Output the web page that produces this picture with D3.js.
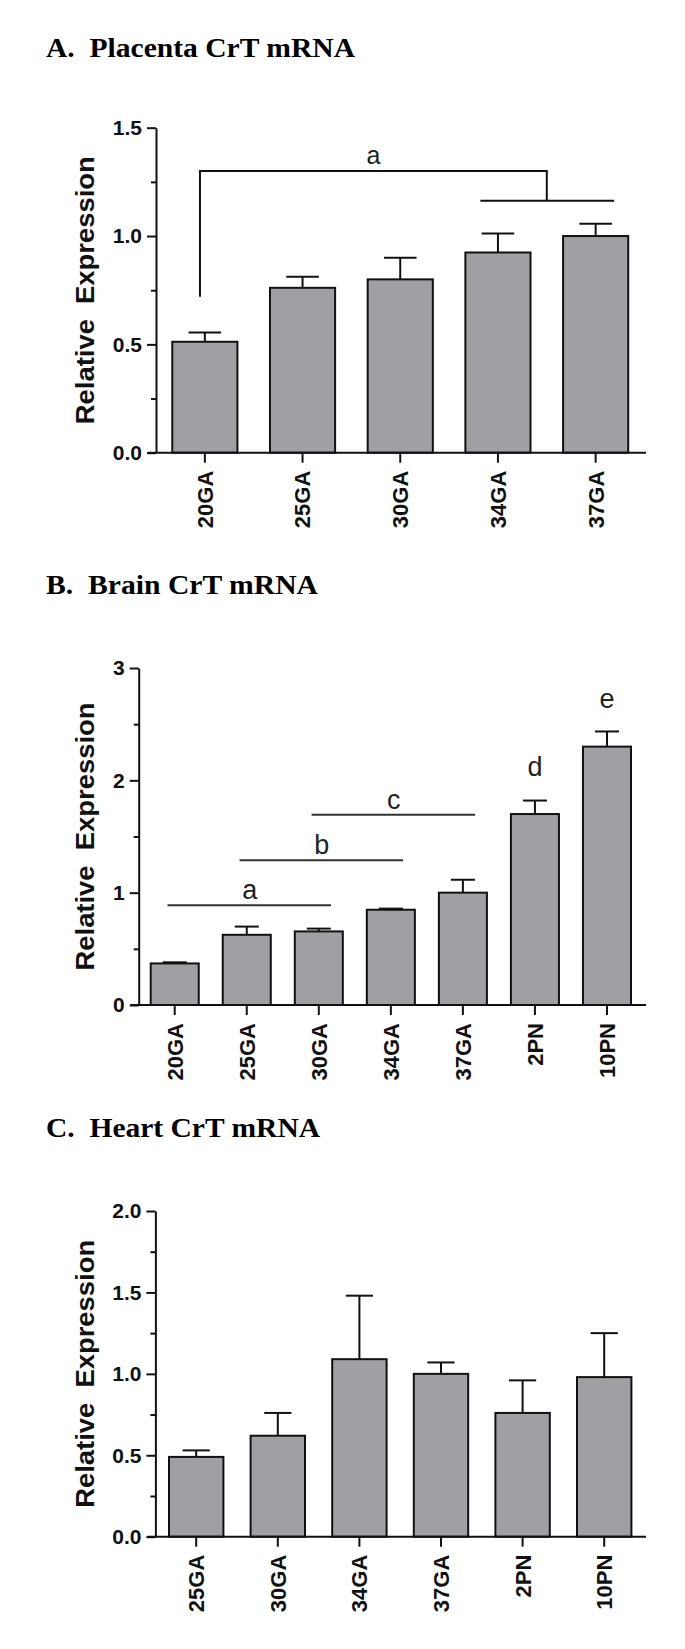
<!DOCTYPE html>
<html>
<head>
<meta charset="utf-8">
<script src="https://cdn.jsdelivr.net/npm/d3@7"></script>
<style>
    body { margin: 0; background: #fff; }
    svg { display: block; }
</style>
</head>
<body>
<div id="chart"></div>
<script>
//////////////////////// Data ////////////////////////

//Placenta
var placentaCats = ["20GA", "25GA", "30GA", "34GA", "37GA"];
var placentaMean = [0.512, 0.761, 0.80, 0.924, 1.0];
var placentaSem = [0.043, 0.051, 0.10, 0.088, 0.057];

//Brain
var brainCats = ["20GA", "25GA", "30GA", "34GA", "37GA", "2PN", "10PN"];
var brainMean = [0.37, 0.625, 0.655, 0.848, 1.0, 1.70, 2.30];
var brainSem = [0.01, 0.073, 0.025, 0.01, 0.115, 0.12, 0.135];

//Heart
var heartCats = ["25GA", "30GA", "34GA", "37GA", "2PN", "10PN"];
var heartMean = [0.49, 0.62, 1.09, 1.0, 0.76, 0.98];
var heartSem = [0.04, 0.14, 0.39, 0.07, 0.20, 0.27];

//Significance marks
//bracket for placenta: [label, from, to (pair), low end, top, join]
var placentaBracket = ["a", "20GA", ["34GA", "37GA"], 0.72, 1.30, 1.163];
//lines for brain: [label, first cat, last cat, level]
var brainLines = [["a", "20GA", "30GA", 0.888], ["b", "25GA", "34GA", 1.288], ["c", "30GA", "37GA", 1.694]];
//letters over single bars: [label, cat, level]
var brainLetters = [["d", "2PN", 2.04], ["e", "10PN", 2.645]];

var titles = ["A.  Placenta CrT mRNA", "B.  Brain CrT mRNA", "C.  Heart CrT mRNA"];
var yTitle = "Relative  Expression";

//////////////////////// Layout ////////////////////////

var width = 685;
var height = 1649;

var svg = d3.select("#chart")
    .append("svg")
    .attr("width", width)
    .attr("height", height);

var panels = [
    {title: titles[0], titleY: 56.7, titleLen: 309, cats: placentaCats, mean: placentaMean, sem: placentaSem,
        left: 156, right: 644.5, top: 127.7, bottom: 452.7, max: 1.5, major: 0.5, minor: 0.25, fmt: ".1f"},
    {title: titles[1], titleY: 594, titleLen: 272, cats: brainCats, mean: brainMean, sem: brainSem,
        left: 138.7, right: 643, top: 668, bottom: 1005, max: 3, major: 1, minor: 0.5, fmt: "d"},
    {title: titles[2], titleY: 1136.7, titleLen: 274, cats: heartCats, mean: heartMean, sem: heartSem,
        left: 155.4, right: 645, top: 1211, bottom: 1536.7, max: 2, major: 0.5, minor: 0.25, fmt: ".1f"}
];

var scales = panels.map(drawPanel);

drawBracket(scales[0]);
drawLines(scales[1]);

//////////////////////// Functions ////////////////////////

function drawPanel(p) {
    var g = svg.append("g");

    //Panel title
    g.append("text")
        .attr("x", 46)
        .attr("y", p.titleY)
        .attr("textLength", p.titleLen)
        .attr("lengthAdjust", "spacingAndGlyphs")
        .style("white-space", "pre")
        .style("font-family", "'Liberation Serif', 'Times New Roman', serif")
        .style("font-weight", "bold")
        .style("font-size", "28px")
        .text(p.title);

    var x = d3.scaleBand()
        .domain(p.cats)
        .range([p.left, p.right])
        .paddingInner(1 / 3)
        .paddingOuter(1 / 6);

    var y = d3.scaleLinear()
        .domain([0, p.max])
        .range([p.bottom, p.top]);

    //Minor ticks
    var minors = d3.range(p.minor, p.max, p.major).filter(function(d) {
        return Math.abs(d / p.major - Math.round(d / p.major)) > 1e-6;
    });
    g.append("g")
        .attr("transform", "translate(" + p.left + ",0)")
        .call(d3.axisLeft(y).tickValues(minors).tickSize(5).tickFormat(""))
        .call(function(a) { a.select(".domain").remove(); })
        .selectAll("line")
        .attr("stroke", "#111")
        .attr("stroke-width", 2);

    //Y axis
    var yAxis = g.append("g")
        .attr("transform", "translate(" + p.left + ",0)")
        .call(d3.axisLeft(y)
            .tickValues(d3.range(0, p.max + 1e-6, p.major))
            .tickSize(9)
            .tickSizeOuter(0)
            .tickPadding(5)
            .tickFormat(d3.format(p.fmt)));
    yAxis.select(".domain").attr("stroke", "#111").attr("stroke-width", 2);
    yAxis.selectAll("line").attr("stroke", "#111").attr("stroke-width", 2);
    yAxis.selectAll("text")
        .style("font-family", "'Liberation Sans', Arial, sans-serif")
        .style("font-weight", "bold")
        .style("font-size", "21px")
        .attr("fill", "#111");

    //Y title
    g.append("text")
        .attr("transform", "translate(85," + (p.top + p.bottom) / 2 + ") rotate(-90)")
        .attr("text-anchor", "middle")
        .attr("dy", "0.35em")
        .attr("textLength", 268)
        .attr("lengthAdjust", "spacingAndGlyphs")
        .style("white-space", "pre")
        .style("font-family", "'Liberation Sans', Arial, sans-serif")
        .style("font-weight", "bold")
        .style("font-size", "26px")
        .attr("fill", "#111")
        .text(yTitle);

    //Bars
    var rows = p.cats.map(function(c, i) {
        return {cat: c, mean: p.mean[i], sem: p.sem[i]};
    });

    g.selectAll("rect.bar")
        .data(rows)
        .enter()
        .append("rect")
        .attr("class", "bar")
        .attr("x", function(d) { return x(d.cat); })
        .attr("y", function(d) { return y(d.mean); })
        .attr("width", x.bandwidth())
        .attr("height", function(d) { return y(0) - y(d.mean); })
        .attr("fill", "#a0a0a4")
        .attr("stroke", "#111")
        .attr("stroke-width", 2);

    //Error bars (upper only)
    var err = g.selectAll("g.err")
        .data(rows)
        .enter()
        .append("g")
        .attr("class", "err")
        .attr("stroke", "#111")
        .attr("stroke-width", 2);
    err.append("line")
        .attr("x1", function(d) { return x(d.cat) + x.bandwidth() / 2; })
        .attr("x2", function(d) { return x(d.cat) + x.bandwidth() / 2; })
        .attr("y1", function(d) { return y(d.mean); })
        .attr("y2", function(d) { return y(d.mean + d.sem); });
    err.append("line")
        .attr("x1", function(d) { return x(d.cat) + x.bandwidth() / 4; })
        .attr("x2", function(d) { return x(d.cat) + x.bandwidth() * 3 / 4; })
        .attr("y1", function(d) { return y(d.mean + d.sem); })
        .attr("y2", function(d) { return y(d.mean + d.sem); });

    //X axis
    g.append("line")
        .attr("x1", p.left - 8)
        .attr("x2", 646)
        .attr("y1", y(0))
        .attr("y2", y(0))
        .attr("stroke", "#111")
        .attr("stroke-width", 2);

    var xAxis = g.append("g")
        .attr("transform", "translate(0," + y(0) + ")")
        .call(d3.axisBottom(x).tickSize(10).tickSizeOuter(0));
    xAxis.select(".domain").remove();
    xAxis.selectAll("line").attr("stroke", "#111").attr("stroke-width", 2);
    xAxis.selectAll("text")
        .attr("transform", "rotate(-90)")
        .attr("x", -18)
        .attr("y", 0)
        .attr("dy", "0.36em")
        .attr("text-anchor", "end")
        .style("font-family", "'Liberation Sans', Arial, sans-serif")
        .style("font-weight", "bold")
        .style("font-size", "22px")
        .attr("fill", "#111");

    return {g: g, x: x, y: y};
}

//Centre of a category
function mid(s, c) {
    return s.x(c) + s.x.bandwidth() / 2;
}

//Placenta bracket
function drawBracket(s) {
    var b = placentaBracket;
    var step = s.x.step();
    var left = mid(s, b[1]) - 0.05 * step;
    var joinX = (mid(s, b[2][0]) + mid(s, b[2][1])) / 2;
    var pts = [[left, s.y(b[3])], [left, s.y(b[4])], [joinX, s.y(b[4])], [joinX, s.y(b[5])]];

    s.g.append("path")
        .attr("d", d3.line()(pts))
        .attr("fill", "none")
        .attr("stroke", "#111")
        .attr("stroke-width", 2);

    s.g.append("line")
        .attr("x1", mid(s, b[2][0]) - 0.18 * step)
        .attr("x2", mid(s, b[2][1]) + 0.19 * step)
        .attr("y1", s.y(b[5]))
        .attr("y2", s.y(b[5]))
        .attr("stroke", "#111")
        .attr("stroke-width", 2);

    s.g.append("text")
        .attr("x", (left + joinX) / 2)
        .attr("y", s.y(b[4] + 0.031))
        .attr("text-anchor", "middle")
        .style("font-family", "'Liberation Sans', Arial, sans-serif")
        .style("font-size", "25px")
        .attr("fill", "#222")
        .text(b[0]);
}

//Brain lines and letters
function drawLines(s) {
    var step = s.x.step();
    var lines = s.g.selectAll("g.sig")
        .data(brainLines)
        .enter()
        .append("g")
        .attr("class", "sig");

    lines.append("line")
        .attr("x1", function(d) { return mid(s, d[1]) - 0.1 * step; })
        .attr("x2", function(d) { return mid(s, d[2]) + 0.17 * step; })
        .attr("y1", function(d) { return s.y(d[3]); })
        .attr("y2", function(d) { return s.y(d[3]); })
        .attr("stroke", "#333")
        .attr("stroke-width", 2);

    lines.append("text")
        .attr("x", function(d) { return (mid(s, d[1]) + mid(s, d[2])) / 2 + 0.04 * step; })
        .attr("y", function(d) { return s.y(d[3] + 0.055); })
        .attr("text-anchor", "middle")
        .style("font-family", "'Liberation Sans', Arial, sans-serif")
        .style("font-size", "27px")
        .attr("fill", "#222")
        .text(function(d) { return d[0]; });

    s.g.selectAll("text.letter")
        .data(brainLetters)
        .enter()
        .append("text")
        .attr("class", "letter")
        .attr("x", function(d) { return mid(s, d[1]); })
        .attr("y", function(d) { return s.y(d[2]); })
        .attr("text-anchor", "middle")
        .style("font-family", "'Liberation Sans', Arial, sans-serif")
        .style("font-size", "27px")
        .attr("fill", "#222")
        .text(function(d) { return d[0]; });
}
</script>
</body>
</html>
